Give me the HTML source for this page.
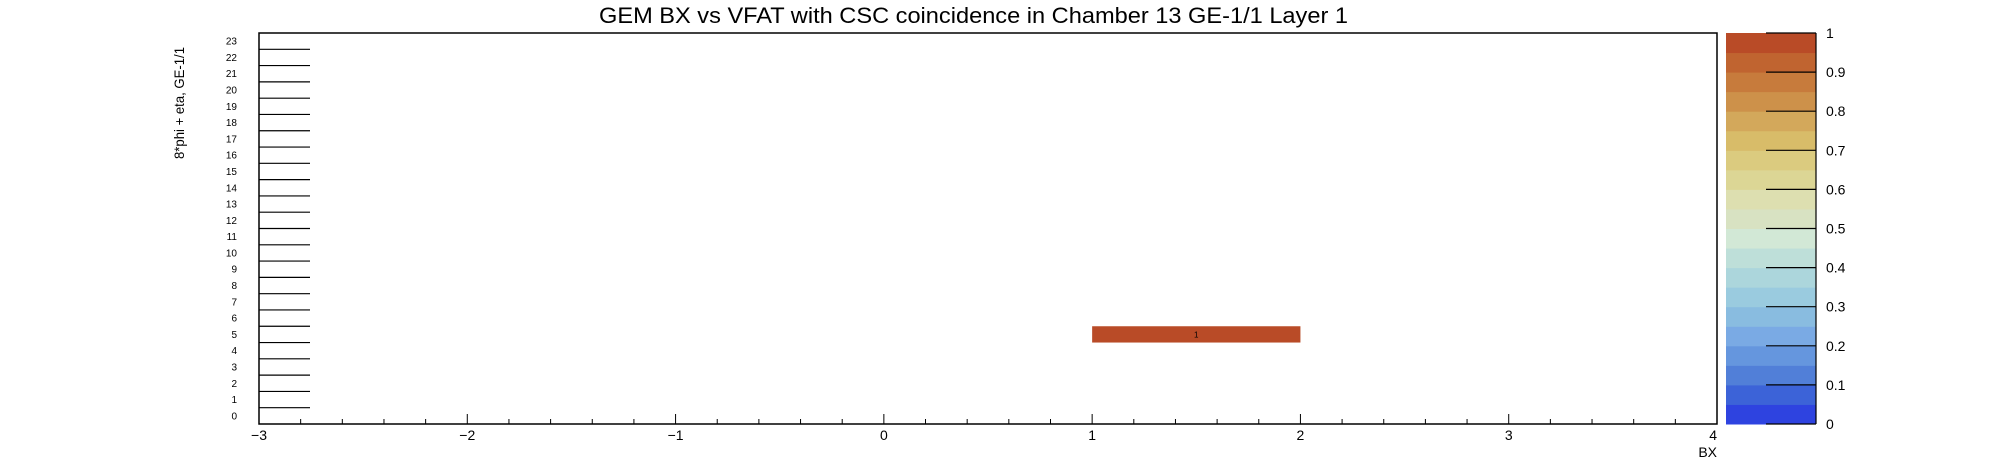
<!DOCTYPE html>
<html><head><meta charset="utf-8"><style>
html,body{margin:0;padding:0;background:#fff;}
svg{display:block;font-family:"Liberation Sans",sans-serif;}
</style></head><body>
<svg id="c" width="1996" height="472" xmlns="http://www.w3.org/2000/svg">
<text x="599" y="23" font-size="22" textLength="749" lengthAdjust="spacingAndGlyphs">GEM BX vs VFAT with CSC coincidence in Chamber 13 GE-1/1 Layer 1</text>
<text transform="translate(184,159) rotate(-90)" x="0" y="0" font-size="14" textLength="112" lengthAdjust="spacingAndGlyphs">8*phi + eta, GE-1/1</text>
<text x="1717" y="457" font-size="14" text-anchor="end">BX</text>
<g id="plot"></g>
</svg>
<script>
const xTicks=[-3,-2,-1,0,1,2,3,4];
const yBins=[0,1,2,3,4,5,6,7,8,9,10,11,12,13,14,15,16,17,18,19,20,21,22,23];
const cellX=[1];
const cellY=[5];
const cellZ=[1];
const zTicks=[0,0.1,0.2,0.3,0.4,0.5,0.6,0.7,0.8,0.9,1];
const palette=["#2e43e0","#3c63d8","#517fd8","#6596de","#7aaae4","#89bce0","#9acbdf","#acd6dc","#bedfd9","#d2e8d6","#d8e2c2","#dddfb0","#dcd695","#dbcb7f","#d8bc69","#d3a85b","#cd914a","#c77b3c","#c06430","#b94b27","#b94b27"];
const NS="http://www.w3.org/2000/svg";
const L=259,R=1717,T=33,B=424;
const xs=v=>L+(v-(-3))/(4-(-3))*(R-L);
const bh=(B-T)/yBins.length;
const ys=v=>B-v*bh;
const g=document.getElementById('plot');
function mk(t,a){const e=document.createElementNS(NS,t);for(const k in a)e.setAttribute(k,a[k]);g.appendChild(e);return e;}
const fr=mk('rect',{x:L,y:T,width:R-L,height:B-T,fill:'none',stroke:'#000','stroke-width':1.5});


const zc=z=>palette[Math.min(palette.length-2,Math.floor(z*(palette.length-1)))];
cellX.forEach((cx,i)=>{
 const r=mk('rect',{x:xs(cx),y:ys(cellY[i]+1),width:xs(cx+1)-xs(cx),height:bh,fill:zc(cellZ[i])});
 
 
 const t=mk('text',{x:(xs(cx)+xs(cx+1))/2,y:ys(cellY[i]+0.5)+3,'font-size':8,'text-anchor':'middle'});
 t.textContent=cellZ[i];
 
 
});
yBins.forEach((b,i)=>{
 if(i>0){const l=mk('line',{x1:L,x2:310,y1:ys(b),y2:ys(b),stroke:'#000','stroke-width':1.2});
 
 }
 const t=mk('text',{x:237,y:ys(b+0.5)+3.5,'font-size':10,'text-anchor':'end'});
 t.textContent=b;
 
 
});
for(let i=0;i<xTicks.length;i++){
 const v=xTicks[i];
 const l=mk('line',{x1:xs(v),x2:xs(v),y1:B,y2:B-10,stroke:'#000','stroke-width':1});
 
 
 if(i<xTicks.length-1){for(let k=1;k<5;k++){const m=mk('line',{x1:xs(v+k/5),x2:xs(v+k/5),y1:B,y2:B-5,stroke:'#000','stroke-width':1});
  
  }}
 const t=mk('text',{x:xs(v),y:440,'font-size':14,'text-anchor':i==xTicks.length-1?'end':'middle'});
 if(i==xTicks.length-1)t.setAttribute('x',R);
 t.textContent=v<0?'\u2212'+(-v):v;
 
 
}
const PL=1726,PR=1816,n=palette.length-1,ph=(B-T)/n;
for(let i=0;i<n;i++){
 const r=mk('rect',{x:PL,y:B-(i+1)*ph,width:PR-PL,height:ph+0.5,fill:palette[i]});
 
 
}
const pb=mk('line',{x1:PR,x2:PR,y1:T,y2:B,stroke:'#000','stroke-width':1.2});


zTicks.forEach(z=>{
 const y=B-z*(B-T);
 const l=mk('line',{x1:1766,x2:PR,y1:y,y2:y,stroke:'#000','stroke-width':1.2});
 
 
 const t=mk('text',{x:1826,y:y+5,'font-size':14});
 t.textContent=z;
 
 
});
</script>
</body></html>
